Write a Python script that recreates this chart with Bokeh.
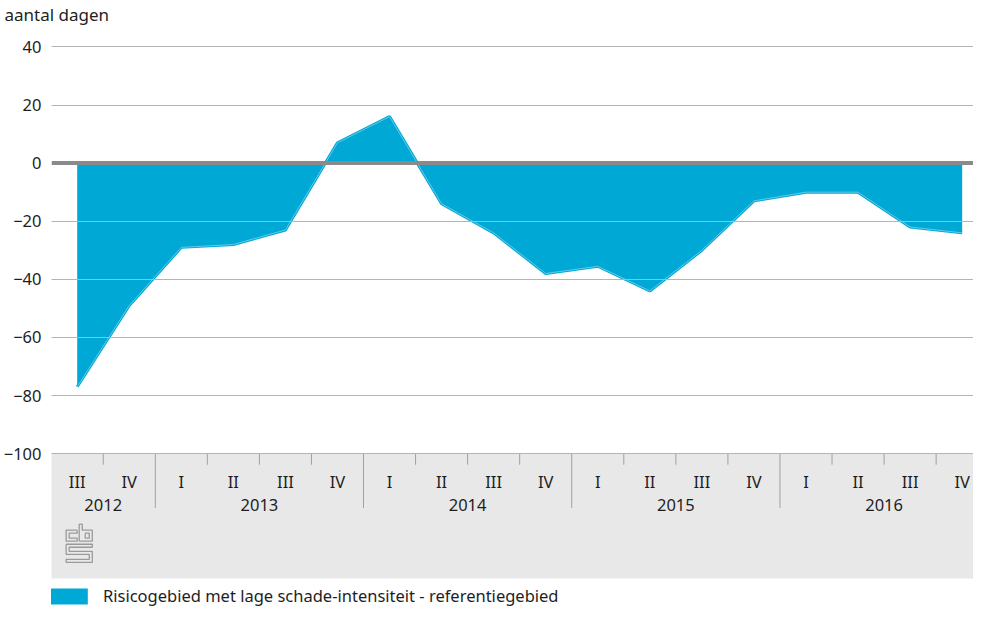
from bokeh.plotting import figure
from bokeh.models import Range1d, ColumnDataSource, Span, FixedTicker, Legend, LegendItem
from bokeh.core.properties import value
from bokeh.embed import file_html
from bokeh.resources import INLINE

# ---- data ----
quarters = ["III", "IV", "I", "II", "III", "IV", "I", "II", "III", "IV",
            "I", "II", "III", "IV", "I", "II", "III", "IV"]
years = ["2012", "2013", "2014", "2015", "2016"]
year_quarter_counts = [2, 4, 4, 4, 4]
values = [-77, -49, -29, -28, -23, 7, 16, -14, -24, -38,
          -35.5, -44, -30, -13, -10, -10, -22, -24]
y_ticks = [40, 20, 0, -20, -40, -60, -80, -100]
series_name = "Risicogebied met lage schade-intensiteit - referentiegebied"

FONT = "Noto Sans"
FS = "16.5px"
BLUE = "#00a8d6"
TXT = "#1e1e1e"

idx = list(range(len(values)))

# pixel helpers for decorations (reference page coords -> data)
PX_PER_X = 51.76
PX_PER_Y = 2.886
X0_PAGE = 80.0
Y0_PAGE = 167.4
KX, KY = 0.99, 0.99   # observed render scale correction
def xd(px):
    return (px - X0_PAGE) / PX_PER_X
def yd(py):
    return (Y0_PAGE - py) / PX_PER_Y

W, H = 973, 607
TOP_BORDER = 23
FRAME_LEFT = 8 + 47
FRAME_RIGHT = 8 + W
FRAME_TOP = 8 + TOP_BORDER
FRAME_BOTTOM = 8 + H
p = figure(width=W, height=H, output_backend="svg", toolbar_location=None,
           x_range=Range1d(xd(FRAME_LEFT * KX), xd(FRAME_RIGHT * KX)),
           y_range=Range1d(yd(FRAME_BOTTOM * KY), yd(FRAME_TOP * KY)),
           x_axis_location=None, min_border_left=47, min_border_right=0,
           min_border_top=TOP_BORDER, min_border_bottom=0, outline_line_color=None,
           background_fill_color="white", border_fill_color="white")

p.title.text = "aantal dagen"
p.title.align = "left"
p.title.offset = -47
p.title.text_font = FONT
p.title.text_font_size = "17px"
p.title.text_font_style = "normal"
p.title.text_color = TXT
p.title.standoff = 0

# y axis
p.yaxis.ticker = FixedTicker(ticks=y_ticks)
p.yaxis.major_label_overrides = {t: (("\u2212" + str(abs(t))) if t < 0 else str(t)) for t in y_ticks}
p.yaxis.axis_line_color = None
p.yaxis.major_tick_line_color = None
p.yaxis.minor_tick_line_color = None
p.yaxis.major_tick_out = 0
p.yaxis.major_tick_in = 0
p.yaxis.minor_tick_out = 0
p.yaxis.major_label_standoff = 10
p.yaxis.major_label_text_font = FONT
p.yaxis.major_label_text_font_size = FS
p.yaxis.major_label_text_color = TXT

p.xgrid.visible = False
p.ygrid.ticker = FixedTicker(ticks=[t for t in y_ticks if t != 0])
p.ygrid.grid_line_color = "#b4b4b4"
p.ygrid.grid_line_width = 1
p.ygrid.level = "annotation"

# gray category panel
p.quad(left=[xd(54)], right=[xd(1000)], top=[-100], bottom=[yd(580)],
       fill_color="#e8e8e8", line_color=None)

# area
src = ColumnDataSource(dict(x=idx, y=values, zero=[0] * len(values)))
area = p.varea(x="x", y1="zero", y2="y", source=src, fill_color=BLUE)
p.line(x="x", y="y", source=src, line_color=BLUE, line_width=3)
p.line(x="x", y="y", source=src, line_color="#9edcf0", line_width=0.8, line_alpha=0.8)

p.add_layout(Span(location=0, dimension="width", line_color="#8a8a8a", line_width=4))

# category ticks
q_tick_x = [i + 0.5 for i in idx[:-1]]
boundaries = []
acc = 0
for c in year_quarter_counts[:-1]:
    acc += c
    boundaries.append(acc - 0.5)
minor_x = [x for x in q_tick_x if x not in boundaries]
p.segment(x0=minor_x, x1=minor_x, y0=[-100] * len(minor_x), y1=[yd(467)] * len(minor_x),
          line_color="#a0a0a0", line_width=1)
p.segment(x0=boundaries, x1=boundaries, y0=[-100] * len(boundaries), y1=[yd(510)] * len(boundaries),
          line_color="#a0a0a0", line_width=1)

# quarter labels
p.text(x=idx, y=[yd(484)] * len(idx), text=quarters, text_align="center", text_baseline="middle",
       text_font=value(FONT), text_font_size=FS, text_color=TXT)
# year labels
year_x = []
start = 0
for c in year_quarter_counts:
    year_x.append(start + (c - 1) / 2)
    start += c
p.text(x=year_x, y=[yd(507)] * len(years), text=years, text_align="center", text_baseline="middle",
       text_font=value(FONT), text_font_size=FS, text_color=TXT)

# cbs logo (decoration)
logo_paths = [
    [(80, 530), (69, 530), (69, 541), (80, 541), (80, 538), (72, 538), (72, 533), (80, 533), (80, 530)],
    [(82, 524), (85, 524), (85, 530), (95, 530), (95, 541), (82, 541), (82, 524)],
    [(88, 533), (92, 533), (92, 538), (88, 538), (88, 533)],
    [(69, 544), (95, 544), (95, 547), (72, 547), (72, 551), (95, 551), (95, 562), (69, 562),
     (69, 559), (92, 559), (92, 554), (69, 554), (69, 544)],
]
p.multi_line(xs=[[xd(a) for a, b in path] for path in logo_paths],
             ys=[[yd(b + 2) for a, b in path] for path in logo_paths],
             line_color="#9a9a9a", line_width=1.3)

legend = Legend(items=[LegendItem(label=series_name, renderers=[area])],
                location=(-6, 0), orientation="horizontal",
                glyph_width=47, glyph_height=20, label_height=20, label_standoff=11,
                padding=0, margin=0, spacing=0,
                label_text_font=FONT, label_text_font_size=FS, label_text_color=TXT,
                border_line_color=None, background_fill_alpha=0)
p.add_layout(legend, "center")

open("out.html", "w").write(file_html(p, INLINE))
